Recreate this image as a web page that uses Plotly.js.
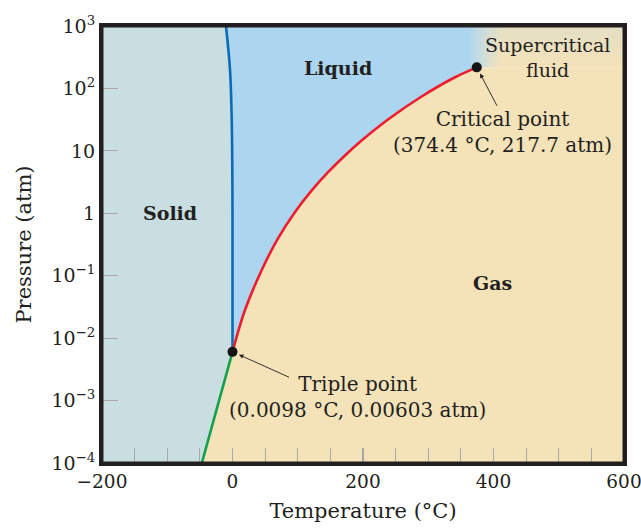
<!DOCTYPE html>
<html>
<head>
<meta charset="utf-8">
<script src="https://cdn.plot.ly/plotly-3.0.1.min.js"></script>
<style>html,body{margin:0;padding:0;background:#fff;}#chart{width:641px;height:528px;}</style>
</head>
<body>
<div id="chart"></div>
<script>
// Sublimation curve (solid-gas)
const subT = [-47, 0.0098];
const subP = [1e-4, 0.00603];
// Melting curve (solid-liquid)
const meltT = [0.0098, 0, -0.3, -1.2, -3.8, -10];
const meltP = [0.00603, 1, 5, 31, 197, 1000];
// Vaporization curve (liquid-gas)
const vapT = [0.0098, 18.7, 44.1, 69.7, 95.3, 120.8, 146.4, 172.0, 197.4, 238.8, 289.9, 341, 374.4];
const vapP = [0.00603, 0.0274, 0.119, 0.396, 1.03, 2.28, 4.55, 8.36, 14.5, 32.1, 74.3, 151, 217.7];
// Special points (triple point, critical point)
const ptT = [0.0098, 374.4];
const ptP = [0.00603, 217.7];
// Axis ticks
const yTickVals = [1e3, 1e2, 10, 1, 0.1, 0.01, 0.001, 0.0001];
const yTickText = ['10<sup>3</sup>', '10<sup>2</sup>', '10', '1', '10<sup>−1</sup>', '10<sup>−2</sup>', '10<sup>−3</sup>', '10<sup>−4</sup>'];
const xTickVals = [-200, 0, 200, 400, 600];
const xTickText = ['−200', '0', '200', '400', '600'];

const X0 = -200, X1 = 600, Y0 = 1e-4, Y1 = 1000;
const cSolid = '#c9dee0', cLiquid = '#acd5f0', cGas = '#f4e2b8';
const FONT = 'DejaVu Serif';
const INK = '#231f20';
const crit = vapT.length - 1;
const L = Math.log10;

const solid = {
  x: [X0].concat(subT, meltT.slice(1), [X0]),
  y: [Y0].concat(subP, meltP.slice(1), [Y1]),
  fill: 'toself', fillcolor: cSolid, line: {width: 0}, mode: 'lines', hoverinfo: 'skip'
};
const liquid = {
  x: meltT.concat([vapT[crit], vapT[crit]], vapT.slice().reverse()),
  y: meltP.concat([Y1, vapP[crit]], vapP.slice().reverse()),
  fill: 'toself', fillcolor: cLiquid, line: {width: 0}, mode: 'lines', hoverinfo: 'skip'
};
const gas = {
  x: subT.concat(vapT.slice(1), [X1, X1, subT[0]]),
  y: subP.concat(vapP.slice(1), [vapP[crit], Y0, Y0]),
  fill: 'toself', fillcolor: cGas, line: {width: 0}, mode: 'lines', hoverinfo: 'skip'
};
const superc = {
  x: [340, 340, X1, X1, 340],
  y: [vapP[crit], Y1, Y1, vapP[crit], vapP[crit]],
  fill: 'toself', line: {width: 0}, mode: 'lines', hoverinfo: 'skip',
  fillcolor: cLiquid,
  fillgradient: {type: 'horizontal', start: 362, stop: 410,
    colorscale: [[0, cLiquid], [0.45, '#d0dedb'], [1, cGas]]}
};
const supercTint = {
  x: [372, 372, X1, X1, 372],
  y: [vapP[crit], Y1, Y1, vapP[crit], vapP[crit]],
  fill: 'toself', line: {width: 0}, mode: 'lines', hoverinfo: 'skip',
  fillcolor: 'rgba(0,0,0,0)',
  fillgradient: {type: 'vertical',
    colorscale: [[0, 'rgba(190,215,225,0)'], [1, 'rgba(190,215,225,0.3)']]}
};
const lineSub = {x: subT, y: subP, mode: 'lines', line: {color: '#13a04a', width: 2.6}};
const lineMelt = {x: meltT, y: meltP, mode: 'lines', line: {color: '#0a6cb8', width: 2.6, shape: 'spline'}};
const lineVap = {x: vapT, y: vapP, mode: 'lines', line: {color: '#ee1c2c', width: 2.6, shape: 'spline', smoothing: 1}};
const pts = {x: ptT, y: ptP, mode: 'markers', marker: {color: '#141414', size: 10}};

const txt = (x, y, text, size) => ({x: x, y: L(y), xref: 'x', yref: 'y', text: text, showarrow: false,
  xanchor: 'center', yanchor: 'middle', font: {family: FONT, size: size || 20, color: INK}});

const layout = {
  width: 641, height: 528,
  margin: {l: 102, r: 17, t: 26, b: 65},
  paper_bgcolor: '#ffffff', plot_bgcolor: 'rgba(0,0,0,0)',
  showlegend: false,
  font: {family: FONT, size: 20, color: INK},
  xaxis: {
    range: [X0, X1], tickvals: xTickVals, ticktext: xTickText,
    ticks: 'inside', ticklen: 15, tickwidth: 1.2, tickcolor: '#a8a8a8',
    minor: {dtick: 50, tick0: 0, ticks: 'inside', ticklen: 15, tickwidth: 1.2, tickcolor: '#a8a8a8'},
    showgrid: false, zeroline: false, showline: true, mirror: true, linecolor: INK, linewidth: 3,
    tickfont: {family: FONT, size: 18.5, color: INK}, ticklabeloverflow: 'allow',
    title: {text: 'Temperature (°C)', font: {family: FONT, size: 21, color: INK}, standoff: 13}
  },
  yaxis: {
    type: 'log', range: [-4, 3], tickvals: yTickVals, ticktext: yTickText,
    ticks: 'inside', ticklen: 16, tickwidth: 1.2, tickcolor: '#a8a8a8',
    showgrid: false, zeroline: false, showline: true, mirror: true, linecolor: INK, linewidth: 3,
    tickfont: {family: FONT, size: 19, color: INK},
    title: {text: 'Pressure (atm)', font: {family: FONT, size: 21, color: INK}, standoff: 15}
  },
  shapes: [
    {type: 'rect', xref: 'paper', yref: 'paper', x0: 0, x1: 1, y0: 0, y1: 1,
     line: {color: INK, width: 3}, fillcolor: 'rgba(0,0,0,0)', layer: 'above'}
  ],
  annotations: [
    txt(-96, 1, '<b>Solid</b>', 19),
    txt(162, 214, '<b>Liquid</b>', 19),
    txt(399, 0.076, '<b>Gas</b>', 19),
    txt(482, 318, 'Supercritical<br>fluid', 19),
    txt(413.8, 20, 'Critical point<br>(374.4 °C, 217.7 atm)'),
    txt(190.8, 0.00114, 'Triple point<br>(0.0098 °C, 0.00603 atm)'),
    {x: ptT[0], y: L(ptP[0]), xref: 'x', yref: 'y', text: '', showarrow: true, ax: 58, ay: 26,
     arrowhead: 2, arrowsize: 1, arrowwidth: 0.9, arrowcolor: INK, standoff: 7},
    {x: ptT[1], y: L(ptP[1]), xref: 'x', yref: 'y', text: '', showarrow: true, ax: 21, ay: 40,
     arrowhead: 2, arrowsize: 1, arrowwidth: 0.9, arrowcolor: INK, standoff: 7}
  ]
};

Plotly.newPlot('chart', [solid, liquid, gas, superc, supercTint, lineSub, lineMelt, lineVap, pts], layout, {displayModeBar: false, staticPlot: true});
</script>
</body>
</html>
